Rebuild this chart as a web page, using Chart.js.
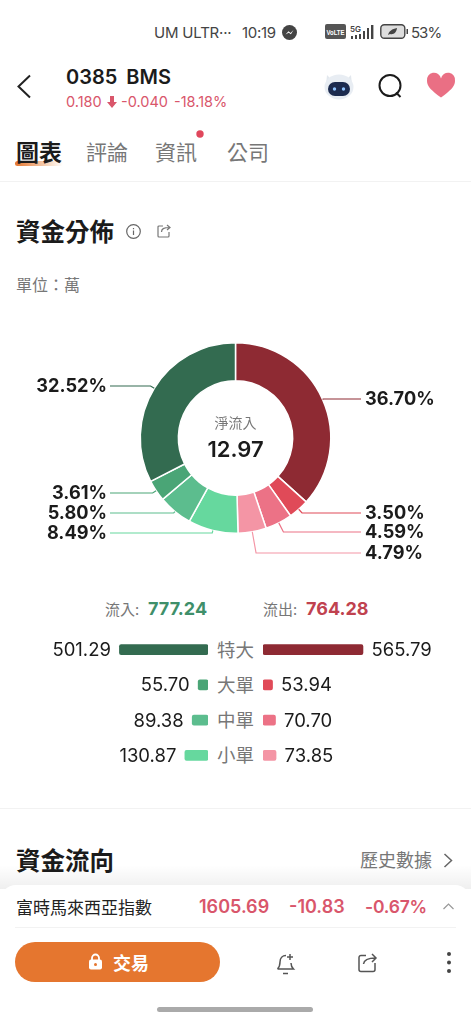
<!DOCTYPE html>
<html>
<head>
<meta charset="utf-8">
<script src="https://cdn.jsdelivr.net/npm/chart.js@4"></script>
<style>
html, body { margin: 0; padding: 0; background: #fff; }
body { width: 471px; height: 1024px; position: relative; overflow: hidden; font-family: Inter, "Noto Sans CJK TC", sans-serif; color: #1b1b1b; }
.t { position: absolute; transform: translateY(-50%); white-space: nowrap; line-height: 1; }
.cjk { font-family: "Noto Sans CJK TC", sans-serif; margin-top: -1px; }
.line { position: absolute; height: 1px; background: #f2f2f2; }
svg { position: absolute; overflow: visible; }
canvas { position: absolute; display: block; }
.grey { color: #777; }
.down { color: #d9566b; }
</style>
</head>
<body>
<!-- status bar -->
<div class="t" style="left:154px;top:32px;font-size:15px;color:#444;letter-spacing:-.2px">UM ULTR···</div>
<div class="t" style="left:242px;top:32px;font-size:15px;color:#444;letter-spacing:-.3px">10:19</div>
<svg style="left:282px;top:25px" width="15" height="15"><circle cx="7.500" cy="7.500" r="7.500" fill="#444"/><path d="M3.500 9.500l3-3.200 2 1.600 3-3-2.600 4.400-2.200-1.500z" fill="#fff"/></svg>
<svg style="left:325px;top:24px" width="22" height="15"><rect width="21" height="15" rx="2" fill="#555"/><text x="10.500" y="11" font-size="8" font-weight="700" fill="#fff" text-anchor="middle" textLength="18" lengthAdjust="spacingAndGlyphs" font-family="Liberation Sans Narrow, Liberation Sans">VoLTE</text></svg>
<div class="t" style="left:350px;top:29px;font-size:8px;font-weight:600;color:#444">5G</div>
<svg style="left:351px;top:24px" width="24" height="16" fill="#444"><rect x="0" y="12" width="2" height="3"/><rect x="4" y="11" width="2" height="4"/><rect x="8" y="10" width="2" height="5"/><rect x="12" y="7" width="2" height="8"/><rect x="16" y="4" width="2" height="11"/><rect x="20" y="1" width="2.400" height="14"/></svg>
<svg style="left:380px;top:24px" width="28" height="16"><rect x=".8" y=".8" width="24" height="13.400" rx="3.500" fill="#ddd" stroke="#444" stroke-width="1.400"/><path d="M8 11c1-4 4-6 9-7-.5 4-3 7-7 6z" fill="#444"/><rect x="26.500" y="5" width="1.500" height="5" fill="#444"/></svg>
<div class="t" style="left:411px;top:32px;font-size:15px;color:#444;letter-spacing:-1px">53%</div>

<!-- header -->
<svg style="left:16px;top:74px" width="16" height="24"><path d="M14 1.500L2.500 12.500 14 23.500" fill="none" stroke="#222" stroke-width="2"/></svg>
<div class="t" style="left:66px;top:77px;font-size:20px;font-weight:600;word-spacing:4px">0385&nbsp;BMS</div>
<div class="t down" style="left:66px;top:102px;font-size:14.500px">0.180</div>
<svg style="left:107px;top:96px" width="10" height="12"><path d="M3 0h4v6h3L5 12 0 6h3z" fill="#d9566b"/></svg>
<div class="t down" style="left:121px;top:102px;font-size:14.500px">-0.040</div>
<div class="t down" style="left:174px;top:102px;font-size:14.500px">-18.18%</div>
<svg style="left:324px;top:72px" width="30" height="28"><path d="M3 3l5 5h14l5-5 1 10H2z" fill="#e3e8ee"/><ellipse cx="15" cy="15" rx="14.500" ry="12.500" fill="#e8edf3"/><rect x="4" y="10" width="22" height="14" rx="7" fill="#1c2b4f"/><circle cx="10.500" cy="17" r="1.700" fill="#8fc4ff"/><circle cx="19.500" cy="17" r="1.700" fill="#8fc4ff"/></svg>
<svg style="left:378px;top:74px" width="25" height="25"><circle cx="12" cy="11.500" r="10.500" fill="none" stroke="#1b1b1b" stroke-width="2"/><path d="M18 18.500l4.500 4.500" stroke="#1b1b1b" stroke-width="2"/></svg>
<svg style="left:427px;top:74px" width="28" height="24"><path d="M14 23.500C5 17 0 12.500 0 7a7 7 0 0 1 14-2.500A7 7 0 0 1 28 7c0 5.500-5 10-14 16.500z" fill="#ea6f84"/></svg>

<!-- tabs -->
<div style="position:absolute;left:15px;top:161px;width:48px;height:5px;border-radius:3px;background:linear-gradient(90deg,#e5762f,#f7d8c0 70%,#fff)"></div>
<div class="t cjk" style="left:16px;top:152px;font-size:23px;font-weight:700">圖表</div>
<div class="t cjk grey" style="left:86px;top:152px;font-size:21px">評論</div>
<div class="t cjk grey" style="left:155px;top:152px;font-size:21px">資訊</div>
<div class="t cjk grey" style="left:227px;top:152px;font-size:21px">公司</div>
<svg style="left:196px;top:130px" width="8" height="8"><circle cx="4" cy="4" r="3.700" fill="#e0475c"/></svg>
<div class="line" style="left:0;top:181px;width:471px"></div>

<div class="t cjk" style="left:16px;top:232px;font-size:24.500px;font-weight:700">資金分佈</div>
<svg style="left:126px;top:224px" width="15" height="15" fill="none" stroke="#666" stroke-width="1.200"><circle cx="7.500" cy="7.500" r="6.800"/><path d="M7.500 6.500v4.500M7.500 4v1.300"/></svg>
<svg style="left:157px;top:224px" width="14" height="14" fill="none" stroke="#777" stroke-width="1.200"><path d="M6 2H2a1 1 0 0 0-1 1v9a1 1 0 0 0 1 1h9a1 1 0 0 0 1-1V8M4.500 8c0-3 2-4.500 8-4.500M10 1l3 2.500-3 2.500"/></svg>
<div class="t cjk grey" style="left:16px;top:285px;font-size:16px">單位：萬</div>

<!-- charts -->
<canvas id="donut" width="471" height="270" style="left:0;top:320px"></canvas>

<div class="t cjk grey" style="left:105px;top:609px;font-size:15px">流入:</div>
<div class="t" id="inTotal" style="left:148px;top:609px;font-size:18px;font-weight:700;color:#3f8f6a"></div>
<div class="t cjk grey" style="left:263px;top:609px;font-size:15px">流出:</div>
<div class="t" id="outTotal" style="left:306px;top:609px;font-size:18px;font-weight:700;color:#c0424f"></div>

<canvas id="barsIn" width="188" height="141" style="left:20px;top:632px"></canvas>
<canvas id="barsOut" width="188" height="141" style="left:263px;top:632px"></canvas>
<div id="rowNames"></div>

<div class="line" style="left:0;top:808px;width:471px"></div>
<div class="t cjk" style="left:16px;top:861px;font-size:24.500px;font-weight:700">資金流向</div>
<div class="t cjk grey" style="left:360px;top:860px;font-size:18px">歷史數據</div>
<svg style="left:443px;top:853px" width="10" height="15"><path d="M1.500 1l7 6.500-7 6.500" fill="none" stroke="#666" stroke-width="1.500"/></svg>

<!-- bottom sheet -->
<div style="position:absolute;left:0;top:865px;width:471px;height:24px;background:linear-gradient(#fff0,#00000010)"></div>
<div style="position:absolute;left:0;top:885px;width:471px;height:139px;background:#fff;border-radius:16px 16px 0 0"></div>
<div class="t cjk" style="left:16px;top:907px;font-size:17px;color:#222">富時馬來西亞指數</div>
<div class="t down" style="left:199px;top:907px;font-size:18px;font-weight:600">1605.69</div>
<div class="t down" style="left:289px;top:907px;font-size:18px;font-weight:600">-10.83</div>
<div class="t down" style="left:365px;top:907px;font-size:17.500px;font-weight:600;letter-spacing:-.2px">-0.67%</div>
<svg style="left:443px;top:903px" width="11" height="7"><path d="M.5 6L5.500 1l5 5" fill="none" stroke="#999" stroke-width="1.200"/></svg>
<div class="line" style="left:15px;top:927px;width:441px"></div>
<div style="position:absolute;left:15px;top:942px;width:205px;height:40px;border-radius:20px;background:#e5762f"></div>
<svg style="left:88px;top:953px" width="15" height="17"><path d="M4 7V5a3.500 3.500 0 0 1 7 0v2" fill="none" stroke="#fff" stroke-width="1.800"/><rect x="1" y="6.500" width="13" height="10" rx="2" fill="#fff"/><circle cx="7.500" cy="11.500" r="1.500" fill="#e5762f"/></svg>
<div class="t cjk" style="left:113px;top:963px;font-size:18px;font-weight:700;color:#fff">交易</div>
<svg style="left:276px;top:952px" width="21" height="23" fill="none" stroke="#555" stroke-width="1.500"><path d="M1.500 17c2-2 2.500-4 2.500-7 0-4 2.500-6.500 6-6.500M1.500 17h16c-1.500-1.500-2.500-3-2.500-6M7 21.500h5M14 2v6M11 5h6"/></svg>
<svg style="left:358px;top:953px" width="20" height="20" fill="none" stroke="#555" stroke-width="1.500"><path d="M8 2.500H3a2 2 0 0 0-2 2v12a2 2 0 0 0 2 2h12a2 2 0 0 0 2-2V10M5.500 11c.5-4 3.500-6 12-6M14 1l4 4-4 4"/></svg>
<svg style="left:446px;top:951px" width="6" height="23" fill="#444"><circle cx="3" cy="3" r="2"/><circle cx="3" cy="11.500" r="2"/><circle cx="3" cy="20" r="2"/></svg>
<div style="position:absolute;left:157px;top:1007px;width:156px;height:5px;border-radius:3px;background:#aaa"></div>

<script>
const categories = ['特大', '大單', '中單', '小單'];
const inflow = [501.29, 55.70, 89.38, 130.87];
const outflow = [565.79, 53.94, 70.70, 73.85];
const inTotal = '777.24';
const outTotal = '764.28';
const netFlow = '12.97';

const inColors = ['#336b50', '#4aa576', '#5cbd8e', '#66d89e'];
const outColors = ['#8e2a33', '#e04a58', '#ec7286', '#f495a5'];

// y of each leader line, clockwise from 12 o'clock (page y minus canvas top)
const leaderY = [79, 193, 212, 233, 213, 193, 173, 66];

const latin = 'Inter, "Noto Sans CJK TC", sans-serif';

document.getElementById('inTotal').textContent = inTotal;
document.getElementById('outTotal').textContent = outTotal;
categories.forEach((name, i) => {
    const div = document.createElement('div');
    div.className = 't cjk grey';
    div.style.cssText = 'left:217px;top:' + (649.6 + i * 35.25) + 'px;font-size:18.500px';
    div.textContent = name;
    document.getElementById('rowNames').appendChild(div);
});

// clockwise: outflow from big to small, then inflow from small to big
const donutValues = outflow.concat(inflow.slice().reverse());
const donutColors = outColors.concat(inColors.slice().reverse());
const donutTotal = donutValues.reduce((a, b) => a + b, 0);

const leaderPlugin = {
    id: 'leaders',
    afterDatasetsDraw(chart) {
        const ctx = chart.ctx;
        chart.getDatasetMeta(0).data.forEach((arc, i) => {
            const mid = (arc.startAngle + arc.endAngle) / 2;
            const sx = arc.x + Math.cos(mid) * arc.outerRadius;
            const sy = arc.y + Math.sin(mid) * arc.outerRadius;
            const ey = leaderY[i];
            // elbow stays on the radial line, level with the label
            const ex = Math.abs(Math.sin(mid)) > 0.05 ? arc.x + (ey - arc.y) / Math.tan(mid) : sx;
            const right = Math.cos(mid) > 0;
            const endX = right ? 361 : 110;
            ctx.strokeStyle = donutColors[i];
            ctx.lineWidth = 1.2;
            ctx.beginPath();
            ctx.moveTo(sx, sy);
            ctx.lineTo(ex, ey);
            ctx.lineTo(endX, ey);
            ctx.stroke();
            ctx.fillStyle = '#1b1b1b';
            ctx.font = '700 18.200px ' + latin;
            ctx.textBaseline = 'middle';
            ctx.textAlign = right ? 'left' : 'right';
            const pct = (donutValues[i] / donutTotal * 100).toFixed(2) + '%';
            ctx.fillText(pct, right ? 365 : 107, ey + 1);
        });
        const arc0 = chart.getDatasetMeta(0).data[0];
        ctx.textAlign = 'center';
        ctx.fillStyle = '#777';
        ctx.font = '14px "Noto Sans CJK TC", sans-serif';
        ctx.fillText('淨流入', arc0.x, arc0.y - 15);
        ctx.fillStyle = '#1b1b1b';
        ctx.font = '600 22px ' + latin;
        ctx.fillText(netFlow, arc0.x, arc0.y + 12);
    }
};

new Chart(document.getElementById('donut').getContext('2d'), {
    type: 'doughnut',
    data: {
        labels: donutValues.map(String),
        datasets: [{
            data: donutValues,
            backgroundColor: donutColors,
            borderColor: '#fff',
            borderWidth: 1.5,
            hoverOffset: 0
        }]
    },
    options: {
        responsive: false,
        animation: false,
        cutout: '60%',
        layout: { padding: { left: 139.500, right: 139.500, top: 22, bottom: 56 } },
        plugins: { legend: { display: false }, tooltip: { enabled: false } }
    },
    plugins: [leaderPlugin]
});

const barLabels = {
    id: 'barLabels',
    afterDatasetsDraw(chart) {
        const ctx = chart.ctx;
        const reversed = chart.options.scales.x.reverse;
        const values = chart.data.datasets[0].data;
        chart.getDatasetMeta(0).data.forEach((bar, i) => {
            ctx.fillStyle = '#1b1b1b';
            ctx.font = '18.500px ' + latin;
            ctx.textBaseline = 'middle';
            ctx.textAlign = reversed ? 'right' : 'left';
            ctx.fillText(values[i].toFixed(2), bar.x + (reversed ? -8.500 : 8.500), bar.y + 1);
        });
    }
};

function makeBars(id, values, colors, reverse) {
    new Chart(document.getElementById(id).getContext('2d'), {
        type: 'bar',
        data: {
            labels: categories,
            datasets: [{
                data: values,
                backgroundColor: colors,
                barThickness: 10,
                borderRadius: 2,
                borderSkipped: false
            }]
        },
        options: {
            indexAxis: 'y',
            responsive: false,
            animation: false,
            layout: { padding: 0 },
            scales: {
                x: { display: false, min: 0, max: 1064, reverse: reverse },
                y: { display: false }
            },
            plugins: { legend: { display: false }, tooltip: { enabled: false } }
        },
        plugins: [barLabels]
    });
}

makeBars('barsIn', inflow, inColors, true);
makeBars('barsOut', outflow, outColors, false);
</script>
</body>
</html>
